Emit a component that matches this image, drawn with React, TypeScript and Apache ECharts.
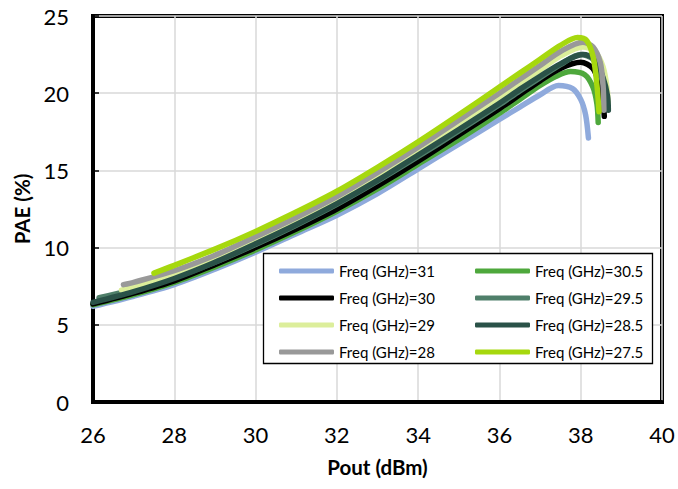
import React, { useEffect, useRef } from "react";
import * as echarts from "echarts";

const seriesNames = [
  "Freq (GHz)=31",
  "Freq (GHz)=30.5",
  "Freq (GHz)=30",
  "Freq (GHz)=29.5",
  "Freq (GHz)=29",
  "Freq (GHz)=28.5",
  "Freq (GHz)=28",
  "Freq (GHz)=27.5",
];
const seriesColors = ["#8FAADC", "#4EA83C", "#000000", "#4F7F6A", "#DCEE9B", "#2A5248", "#999999", "#A6D80E"];

const pout31 = [26, 27, 28, 29, 30, 31, 32, 33, 34, 35, 36, 36.5, 37, 37.45, 37.8, 38.0, 38.12, 38.19];
const pae31 = [6.2, 6.85, 7.6, 8.6, 9.7, 10.9, 12.1, 13.5, 15.1, 16.7, 18.3, 19.1, 19.9, 20.5, 20.3, 19.6, 18.6, 17.1];

const pout305 = [26, 27, 28, 29, 30, 31, 32, 33, 34, 35, 36, 36.5, 37, 37.4, 37.75, 38.1, 38.3, 38.4, 38.43];
const pae305 = [6.3, 6.95, 7.75, 8.75, 9.85, 11.05, 12.35, 13.8, 15.4, 17.0, 18.7, 19.6, 20.5, 21.1, 21.4, 21.2, 20.4, 19.3, 18.1];

const pout30 = [26, 27, 28, 29, 30, 31, 32, 33, 34, 35, 36, 36.5, 37, 37.5, 38.0, 38.3, 38.45, 38.55, 38.58];
const pae30 = [6.35, 7.05, 7.85, 8.9, 10.0, 11.2, 12.5, 14.0, 15.6, 17.3, 19.0, 19.9, 20.8, 21.6, 22.0, 21.6, 20.6, 19.4, 18.5];

const pout295 = [26.15, 27, 28, 29, 30, 31, 32, 33, 34, 35, 36, 36.5, 37, 37.5, 38.0, 38.3, 38.5, 38.62, 38.65];
const pae295 = [6.75, 7.3, 8.05, 9.05, 10.2, 11.45, 12.8, 14.3, 15.9, 17.55, 19.25, 20.15, 21.0, 21.85, 22.5, 22.2, 21.1, 19.9, 19.0];

const pout29 = [26.7, 27, 28, 29, 30, 31, 32, 33, 34, 35, 36, 36.5, 37, 37.5, 38.05, 38.35, 38.55, 38.65, 38.68];
const pae29 = [7.25, 7.45, 8.2, 9.25, 10.45, 11.7, 13.05, 14.6, 16.2, 17.95, 19.7, 20.6, 21.5, 22.4, 23.0, 22.7, 21.7, 20.3, 19.0];

const pout285 = [26, 27, 28, 29, 30, 31, 32, 33, 34, 35, 36, 36.5, 37, 37.5, 38.05, 38.35, 38.55, 38.66, 38.68];
const pae285 = [6.45, 7.15, 8.0, 9.05, 10.25, 11.5, 12.85, 14.35, 16.0, 17.65, 19.35, 20.25, 21.1, 21.9, 22.5, 22.2, 21.0, 19.8, 18.9];

const pout28 = [26.75, 27, 28, 29, 30, 31, 32, 33, 34, 35, 36, 36.5, 37, 37.5, 38.05, 38.3, 38.48, 38.55, 38.57];
const pae28 = [7.6, 7.75, 8.5, 9.5, 10.7, 11.95, 13.3, 14.85, 16.5, 18.25, 20.0, 20.9, 21.8, 22.7, 23.3, 23.0, 22.0, 20.5, 18.9];

const pout275 = [27.5, 28, 29, 30, 31, 32, 33, 34, 35, 36, 36.5, 37, 37.5, 37.92, 38.15, 38.31, 38.4, 38.45];
const pae275 = [8.35, 8.85, 9.9, 11.05, 12.3, 13.65, 15.2, 16.85, 18.6, 20.4, 21.3, 22.2, 23.1, 23.6, 23.4, 22.3, 20.5, 18.8];

const poutSets = [pout31, pout305, pout30, pout295, pout29, pout285, pout28, pout275];
const paeSets = [pae31, pae305, pae30, pae295, pae29, pae285, pae28, pae275];

const xTicks = { min: 26, max: 40, interval: 2 };
const yTicks = { min: 0, max: 25, interval: 5 };

const legendLeftCol = [seriesNames[0], seriesNames[2], seriesNames[4], seriesNames[6]];
const legendRightCol = [seriesNames[1], seriesNames[3], seriesNames[5], seriesNames[7]];

const FONT = "Lato, 'Open Sans', sans-serif";

export default function App() {
  const ref = useRef<HTMLDivElement>(null);
  useEffect(() => {
    if (!ref.current) return;
    const chart = echarts.init(ref.current, undefined, { renderer: "svg" });
    const legendCommon = {
      orient: "vertical" as const,
      top: 258,
      itemWidth: 55,
      itemHeight: 5,
      itemGap: 11,
      icon: "roundRect",
      textStyle: { fontSize: 15, color: "#000", fontFamily: "Lato", lineHeight: 16 },
      z: 6,
    };
    chart.setOption({
      animation: false,
      backgroundColor: "#fff",
      grid: {
        left: 93,
        right: 16,
        top: 16,
        bottom: 87,
        show: true,
        borderColor: "#000",
        borderWidth: 4,
        backgroundColor: "transparent",
      },
      xAxis: {
        type: "value",
        min: xTicks.min,
        max: xTicks.max,
        interval: xTicks.interval,
        name: "Pout (dBm)",
        nameLocation: "middle",
        nameGap: 54,
        nameTextStyle: { fontSize: 20.5, fontWeight: "bold", color: "#000", fontFamily: FONT },
        axisLine: { show: true, lineStyle: { color: "#000", width: 4 } },
        axisTick: { show: false },
        axisLabel: { fontSize: 22, color: "#000", fontFamily: FONT, margin: 21 },
        splitLine: { show: true, lineStyle: { color: "#D9D9D9", width: 1.5 } },
      },
      yAxis: {
        type: "value",
        min: yTicks.min,
        max: yTicks.max,
        interval: yTicks.interval,
        name: "PAE (%)",
        nameLocation: "middle",
        nameGap: 61,
        nameRotate: 90,
        nameTextStyle: { fontSize: 20.5, fontWeight: "bold", color: "#000", fontFamily: FONT },
        axisLine: { show: true, lineStyle: { color: "#000", width: 4 } },
        axisTick: { show: true, inside: true, length: 6, lineStyle: { color: "#000", width: 1.5 } },
        axisLabel: { fontSize: 22, color: "#000", fontFamily: FONT, margin: 24 },
        splitLine: { show: true, lineStyle: { color: "#D9D9D9", width: 1.5 } },
      },
      legend: [
        { ...legendCommon, left: 274, data: legendLeftCol },
        { ...legendCommon, left: 470, data: legendRightCol },
      ],
      graphic: [
        {
          type: "rect",
          z: 5,
          shape: { x: 263.5, y: 253.5, width: 389, height: 110 },
          style: { fill: "#fff", stroke: "#000", lineWidth: 1.3 },
        },
      ],
      series: seriesNames.map((name, i) => ({
        name,
        type: "line",
        data: poutSets[i].map((x, j) => [x, paeSets[i][j]]),
        showSymbol: false,
        symbol: "none",
        smooth: 0.3,
        color: seriesColors[i],
        lineStyle: { color: seriesColors[i], width: 5.5, cap: "round", join: "round" },
        z: 2,
      })),
    });
    return () => chart.dispose();
  }, []);
  return <div ref={ref} style={{ position: "fixed", left: 0, top: 0, width: 678, height: 489 }} />;
}
